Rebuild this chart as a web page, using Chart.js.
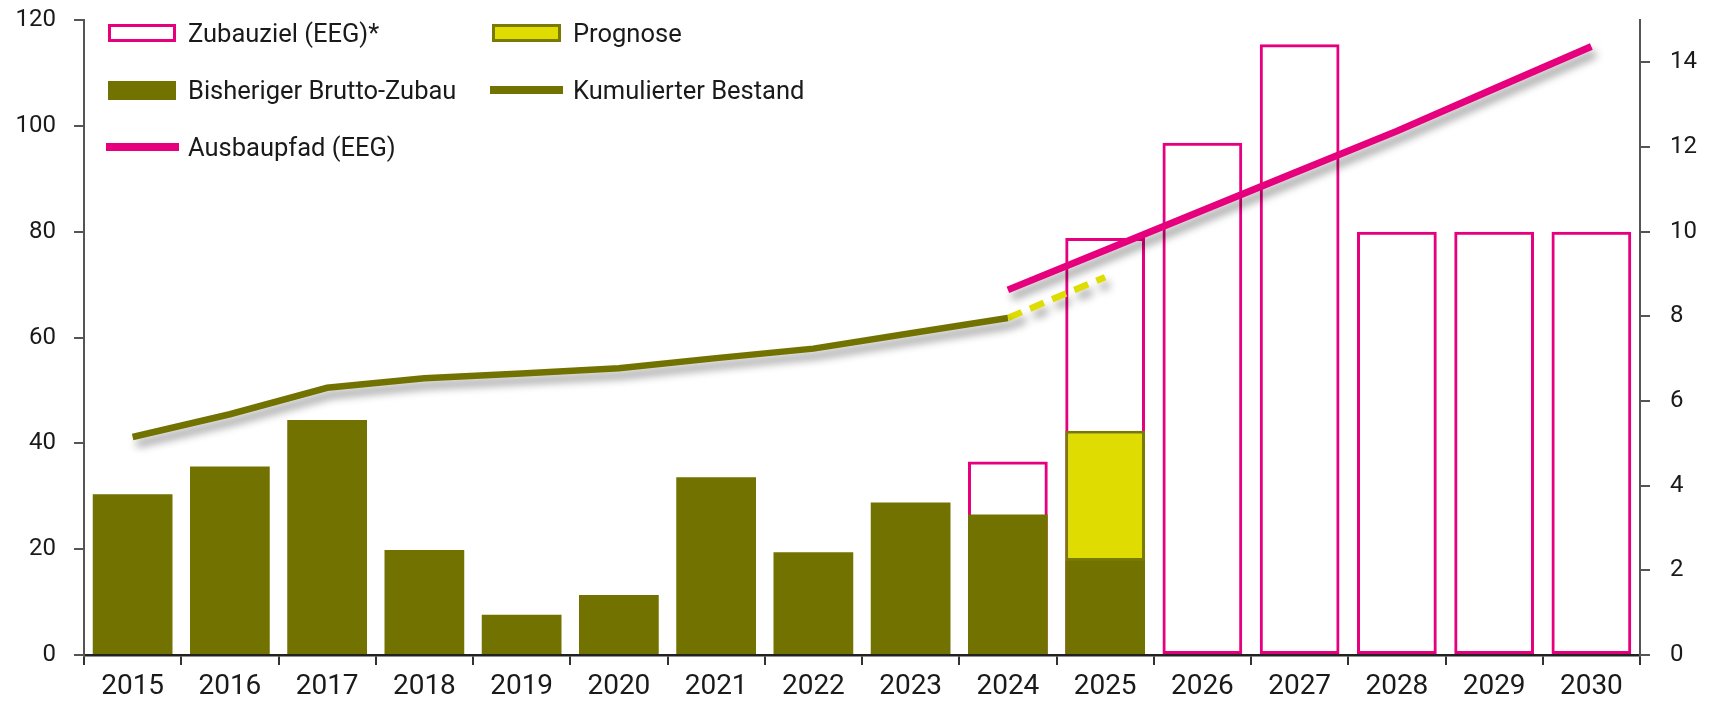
<!DOCTYPE html>
<html lang="de">
<head>
    <meta charset="UTF-8">
    <title>Zubau und Bestand</title>
    <style>
        body {
            margin: 0;
            padding: 0;
            background-color: white;
        }
        #chartBox {
            position: relative;
            width: 1713px;
            height: 703px;
        }
        .legendItem {
            position: absolute;
            height: 30px;
            display: flex;
            align-items: center;
            font-family: Roboto, sans-serif;
            font-size: 25.5px;
            color: #1a1a1a;
            white-space: nowrap;
        }
        .swatch {
            box-sizing: border-box;
            display: inline-block;
            margin-right: 12px;
        }
    </style>
</head>
<body>
    <div id="chartBox">
        <canvas id="zubauChart"></canvas>
        <div class="legendItem" style="left:108px; top:18px;">
            <span class="swatch" style="width:68px; height:18px; border:3px solid #e6007e; background:white;"></span>Zubauziel (EEG)*
        </div>
        <div class="legendItem" style="left:108px; top:75px;">
            <span class="swatch" style="width:68px; height:19px; background:#727200;"></span>Bisheriger Brutto-Zubau
        </div>
        <div class="legendItem" style="left:106px; top:132px;">
            <span class="swatch" style="width:73px; height:8px; background:#e6007e; margin-right:9px;"></span>Ausbaupfad (EEG)
        </div>
        <div class="legendItem" style="left:492px; top:18px;">
            <span class="swatch" style="width:69px; height:18px; border:3px solid #7a7a00; background:#dedc00;"></span>Prognose
        </div>
        <div class="legendItem" style="left:490px; top:75px;">
            <span class="swatch" style="width:73px; height:8px; background:#727200; margin-right:10px;"></span>Kumulierter Bestand
        </div>
    </div>
    <script src="https://cdn.jsdelivr.net/npm/chart.js"></script>
    <script>
        const years = ["2015", "2016", "2017", "2018", "2019", "2020", "2021", "2022",
                       "2023", "2024", "2025", "2026", "2027", "2028", "2029", "2030"];

        // Jahreswerte (rechte Achse)
        const zubauziel = [null, null, null, null, null, null, null, null, null, 4.57, 9.85, 12.1, 14.43, 10, 10, 10];
        const bruttoZubau = [3.8, 4.45, 5.55, 2.48, 0.95, 1.42, 4.2, 2.43, 3.6, 3.32, 2.22, null, null, null, null, null];
        const prognoseVon = [null, null, null, null, null, null, null, null, null, null, 2.22, null, null, null, null, null];
        const prognoseBis = [null, null, null, null, null, null, null, null, null, null, 5.3, null, null, null, null, null];

        // Bestand (linke Achse)
        const bestand = [41.2, 45.5, 50.5, 52.3, 53.2, 54.2, 56.1, 57.9, 60.8, 63.7, null, null, null, null, null, null];
        const bestandPrognose = [null, null, null, null, null, null, null, null, null, 63.7, 71.4, null, null, null, null, null];
        const ausbaupfad = [null, null, null, null, null, null, null, null, null, 69, 76.5, 84, 91.5, 99, 107, 115];

        const leftTicks = [0, 20, 40, 60, 80, 100, 120];
        const rightTicks = [0, 2, 4, 6, 8, 10, 12, 14];

        const olive = "#727200";
        const magenta = "#e6007e";
        const gelb = "#dedc00";

        const prognoseBars = prognoseVon.map((v, i) => v === null ? null : [v, prognoseBis[i]]);

        const lineShadow = {
            id: "lineShadow",
            beforeDatasetDraw(chart, args) {
                if (chart.data.datasets[args.index].type !== "line") return;
                const ctx = chart.ctx;
                ctx.save();
                ctx.shadowColor = "rgba(0,0,0,0.4)";
                ctx.shadowBlur = 9;
                ctx.shadowOffsetX = 4;
                ctx.shadowOffsetY = 7;
            },
            afterDatasetDraw(chart, args) {
                if (chart.data.datasets[args.index].type !== "line") return;
                chart.ctx.restore();
            }
        };

        const tickFont = { family: "Roboto, sans-serif", size: 24 };

        // feste Achsbreiten, ohne Zusatzabstand oben/unten
        function fixY(width) {
            return s => {
                s.width = width;
                s.paddingTop = 0;
                s.paddingBottom = 0;
            };
        }

        new Chart(document.getElementById("zubauChart"), {
            data: {
                labels: years,
                datasets: [
                    {
                        type: "line",
                        label: "Ausbaupfad (EEG)",
                        data: ausbaupfad,
                        yAxisID: "y",
                        borderColor: magenta,
                        borderWidth: 7,
                        borderCapStyle: "butt",
                        pointRadius: 0,
                        order: 0
                    },
                    {
                        type: "line",
                        label: "Kumulierter Bestand",
                        data: bestand,
                        yAxisID: "y",
                        borderColor: olive,
                        borderWidth: 6.5,
                        borderCapStyle: "butt",
                        pointRadius: 0,
                        order: 1
                    },
                    {
                        type: "line",
                        label: "Bestand Prognose",
                        data: bestandPrognose,
                        yAxisID: "y",
                        borderColor: gelb,
                        borderWidth: 6.5,
                        borderDash: [15, 9],
                        borderCapStyle: "butt",
                        pointRadius: 0,
                        order: 1
                    },
                    {
                        type: "bar",
                        label: "Prognose",
                        data: prognoseBars,
                        yAxisID: "y1",
                        backgroundColor: gelb,
                        borderColor: "#7a7a00",
                        borderWidth: 3,
                        borderSkipped: false,
                        grouped: false,
                        order: 2
                    },
                    {
                        type: "bar",
                        label: "Bisheriger Brutto-Zubau",
                        data: bruttoZubau,
                        yAxisID: "y1",
                        backgroundColor: olive,
                        borderWidth: 0,
                        grouped: false,
                        order: 3
                    },
                    {
                        type: "bar",
                        label: "Zubauziel (EEG)*",
                        data: zubauziel,
                        yAxisID: "y1",
                        backgroundColor: "rgba(255,255,255,0)",
                        borderColor: magenta,
                        borderWidth: 3,
                        borderSkipped: false,
                        grouped: false,
                        order: 4
                    }
                ]
            },
            options: {
                responsive: true,
                maintainAspectRatio: false,
                animation: false,
                layout: { padding: { top: 20, left: 0, right: 0, bottom: 0 } },
                datasets: {
                    bar: { categoryPercentage: 1, barPercentage: 0.82 }
                },
                plugins: {
                    legend: { display: false },
                    tooltip: { enabled: false }
                },
                scales: {
                    x: {
                        type: "category",
                        offset: true,
                        grid: {
                            offset: true,
                            drawOnChartArea: false,
                            tickLength: 10,
                            color: "#333",
                            lineWidth: 2
                        },
                        border: { color: "#222", width: 2.5 },
                        ticks: {
                            font: { family: "Roboto, sans-serif", size: 28 },
                            color: "#1a1a1a",
                            padding: 5,
                            maxRotation: 0
                        },
                        afterFit: s => { s.height = 48; }
                    },
                    y: {
                        position: "left",
                        min: 0,
                        max: 120,
                        grid: {
                            drawOnChartArea: false,
                            tickLength: 10,
                            color: "#555",
                            lineWidth: 2
                        },
                        border: { color: "#555", width: 2 },
                        ticks: { font: tickFont, color: "#1a1a1a", padding: 18 },
                        afterBuildTicks: s => { s.ticks = leftTicks.map(v => ({ value: v })); },
                        afterFit: fixY(84)
                    },
                    y1: {
                        position: "right",
                        min: 0,
                        max: 15,
                        grid: {
                            drawOnChartArea: false,
                            tickLength: 10,
                            color: "#555",
                            lineWidth: 2
                        },
                        border: { color: "#555", width: 2 },
                        ticks: { font: tickFont, color: "#1a1a1a", padding: 20 },
                        afterBuildTicks: s => { s.ticks = rightTicks.map(v => ({ value: v })); },
                        afterFit: fixY(73)
                    }
                }
            },
            plugins: [lineShadow]
        });
    </script>
</body>
</html>
